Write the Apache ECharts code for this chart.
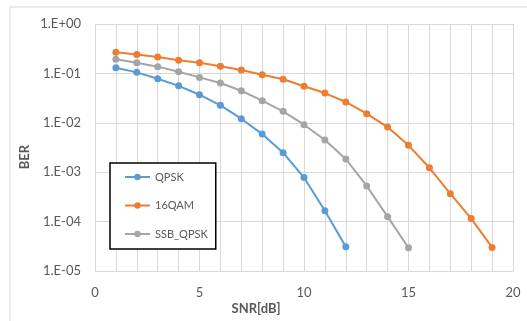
<!DOCTYPE html>
<html>
<head>
<meta charset="utf-8">
<script src="https://cdn.jsdelivr.net/npm/echarts@6/dist/echarts.min.js"></script>
<style>html,body{margin:0;padding:0;background:#fff}#c{width:527px;height:321px}</style>
</head>
<body>
<div id="c"></div>
<script>
const snr = [1,2,3,4,5,6,7,8,9,10,11,12,13,14,15,16,17,18,19];
const qpsk = [0.13,0.105,0.078,0.056,0.037,0.0226,0.0121,0.0059,0.00248,0.00078,0.000166,0.000031];
const qam16 = [0.267,0.24,0.215,0.184,0.165,0.139,0.117,0.094,0.076,0.0548,0.040,0.0264,0.0153,0.0082,0.0035,0.00123,0.000367,0.000115,0.00003];
const ssbQpsk = [0.193,0.165,0.137,0.108,0.083,0.064,0.0446,0.028,0.0171,0.00916,0.00449,0.00185,0.000526,0.000126,0.0000296];
const seriesNames = ['QPSK','16QAM','SSB_QPSK'];
const colors = ['#5B9BD5','#ED7D31','#A5A5A5'];
const xTitle = 'SNR[dB]';
const yTitle = 'BER';

function pairs(vals){ return vals.map((v,i)=>[snr[i], v]); }
const font = 'Lato, Open Sans, sans-serif';
const txt = '#595959';
const gridC = '#d9d9d9';

const chart = echarts.init(document.getElementById('c'), null, {renderer:'canvas'});
chart.setOption({
  animation:false,
  backgroundColor:'#fff',
  graphic:[
    {type:'rect', shape:{x:10,y:7,width:540,height:340}, style:{fill:'none', stroke:gridC, lineWidth:1}, z:-1},
    {type:'text', x:256, y:309, style:{text:xTitle, fill:txt, font:'bold 13px '+font, textAlign:'center', textVerticalAlign:'middle'}},
    {type:'text', x:25, y:157, rotation:Math.PI/2, style:{text:yTitle, fill:txt, font:'bold 13px '+font, textAlign:'center', textVerticalAlign:'middle'}}
  ],
  grid:{left:95, right:14, top:24, bottom:50},
  xAxis:{
    type:'value', min:0, max:20, interval:1,
    axisLine:{lineStyle:{color:gridC}}, axisTick:{show:false},
    axisLabel:{color:txt, fontSize:13, fontFamily:font, margin:15,
      formatter:v=> (v%5===0 ? String(v) : '')},
    splitLine:{show:true, lineStyle:{color:gridC, width:1}}
  },
  yAxis:{
    type:'log', min:1e-5, max:1, logBase:10,
    axisLine:{show:true, lineStyle:{color:gridC}}, axisTick:{show:false},
    axisLabel:{color:txt, fontSize:13, fontFamily:font, margin:14,
      formatter:v=>{ const e=Math.round(Math.log10(v)); return '1.E'+(e>=0?'+':'-')+String(Math.abs(e)).padStart(2,'0'); }},
    splitLine:{show:true, lineStyle:{color:gridC, width:1}}
  },
  legend:{
    orient:'vertical', left:110, top:163,
    padding:[7,8,8,14], itemGap:14.5, itemWidth:25, itemHeight:8,
    borderColor:'#000', borderWidth:1.5, backgroundColor:'#fff',
    textStyle:{color:txt, fontSize:11, fontFamily:font, lineHeight:14},
    data:seriesNames
  },
  series:[
    {name:seriesNames[0], type:'line', data:pairs(qpsk), color:colors[0], symbol:'circle', symbolSize:7, lineStyle:{width:2}},
    {name:seriesNames[1], type:'line', data:pairs(qam16), color:colors[1], symbol:'circle', symbolSize:7, lineStyle:{width:2}},
    {name:seriesNames[2], type:'line', data:pairs(ssbQpsk), color:colors[2], symbol:'circle', symbolSize:7, lineStyle:{width:2}}
  ]
});
</script>
</body>
</html>
